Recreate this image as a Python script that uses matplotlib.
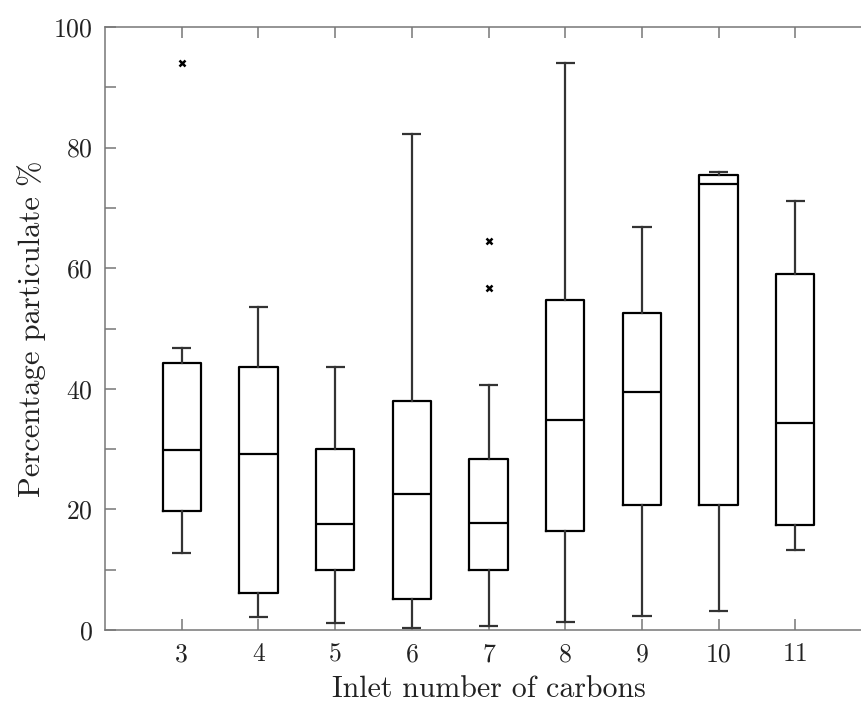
import numpy as np
import matplotlib
matplotlib.use("Agg")
import matplotlib.pyplot as plt
from matplotlib.ticker import MultipleLocator

plt.rcParams['font.family'] = ['cmr10', 'DejaVu Serif']
plt.rcParams['mathtext.fontset'] = 'cm'
plt.rcParams['axes.formatter.use_mathtext'] = True

# box statistics
carbons = [3, 4, 5, 6, 7, 8, 9, 10, 11]
wlo = [12.7, 2.2, 1.2, 0.35, 0.7, 1.4, 2.3, 3.2, 13.2]
q1 = [19.8, 6.1, 9.95, 5.1, 9.9, 16.5, 20.8, 20.8, 17.4]
med = [29.85, 29.2, 17.5, 22.5, 17.7, 34.9, 39.4, 73.9, 34.3]
q3 = [44.2, 43.6, 30.0, 38.0, 28.4, 54.7, 52.6, 75.5, 59.1]
whi = [46.7, 53.6, 43.6, 82.2, 40.7, 94.1, 66.9, 75.9, 71.1]
fliers = [[94.0], [], [], [], [64.5, 56.8], [], [], [], []]

stats = []
for i in range(len(carbons)):
    stats.append(dict(whislo=wlo[i], q1=q1[i], med=med[i], q3=q3[i],
                      whishi=whi[i], fliers=fliers[i], label=str(carbons[i])))

fig = plt.figure(figsize=(8.61, 7.03), dpi=100)
ax = fig.add_axes([0.122, 0.1038, 0.8908, 0.8578])

ax.bxp(stats, positions=carbons, widths=0.5, showfliers=True,
       boxprops=dict(color='black', linewidth=1.6),
       medianprops=dict(color='black', linewidth=1.6),
       whiskerprops=dict(color='#333333', linewidth=1.6),
       capprops=dict(color='#333333', linewidth=1.6, solid_capstyle='butt'),
       flierprops=dict(marker='x', markersize=4.5, markeredgewidth=1.8,
                       markeredgecolor='black', linestyle='none'),
       capwidths=0.25)

ax.set_xlim(2, 12)
ax.set_ylim(0, 100)
ax.set_xticks(carbons)
ax.set_xticklabels([str(c) for c in carbons])
ax.yaxis.set_major_locator(MultipleLocator(20))
ax.yaxis.set_minor_locator(MultipleLocator(10))

for s in ax.spines.values():
    s.set_color('#777777')
    s.set_linewidth(1.1)
ax.tick_params(which='both', direction='in', top=True, right=True,
               length=8, width=1.1, color='#777777', labelsize=18.5,
               labelcolor='#222222', pad=9)

ax.set_xlabel('Inlet number of carbons', fontsize=21.5, color='#222222', labelpad=7)
ax.set_ylabel('Percentage particulate %', fontsize=22, color='#222222', labelpad=5)

fig.savefig('out.png', dpi=100)
